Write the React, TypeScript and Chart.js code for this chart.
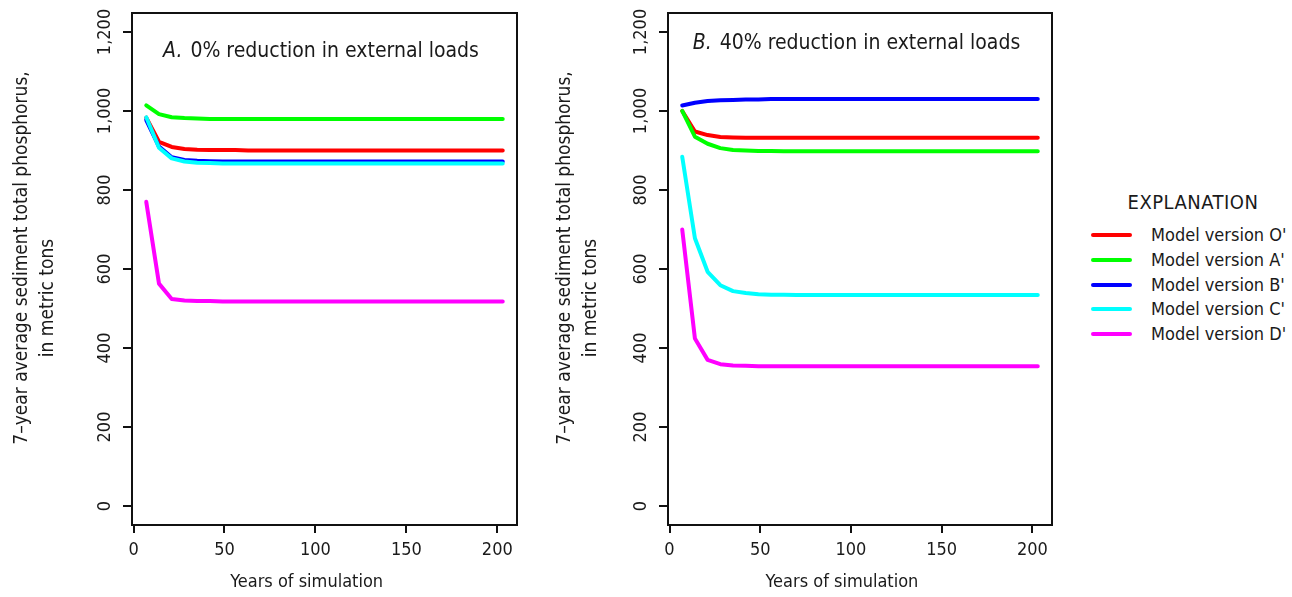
import React, { useEffect, useRef } from "react";
import { Chart, registerables } from "chart.js";

Chart.register(...registerables);

const FONT = "'DejaVu Sans Condensed', 'Liberation Sans Narrow', 'Roboto Condensed', 'DejaVu Sans', sans-serif";
const TEXT = "#1a1a1a";

const YEARS = [7, 14, 21, 28, 35, 42, 49, 56, 63, 70, 77, 84, 91, 98, 105, 112, 119, 126, 133, 140, 147, 154, 161, 168, 175, 182, 189, 196, 203];

const X_TICKS = [0, 50, 100, 150, 200];
const Y_TICKS = [0, 200, 400, 600, 800, 1000, 1200];
const X_MIN = -0.84;
const X_MAX = 210.84;
const Y_MIN = -48;
const Y_MAX = 1248;

const SERIES_NAMES = ["Model version O'", "Model version A'", "Model version B'", "Model version C'", "Model version D'"];
const SERIES_COLORS = ["#ff0000", "#00ff00", "#0000ff", "#00ffff", "#ff00ff"];

// Panel A: 0% reduction in external loads
const A_O = [983, 922, 909, 904, 902, 901, 901, 901, 900, 900, 900, 900, 900, 900, 900, 900, 900, 900, 900, 900, 900, 900, 900, 900, 900, 900, 900, 900, 900];
const A_A = [1014, 992, 984, 982, 981, 980, 980, 980, 980, 980, 980, 980, 980, 980, 980, 980, 980, 980, 980, 980, 980, 980, 980, 980, 980, 980, 980, 980, 980];
const A_B = [977, 910, 883, 876, 874, 873, 872, 872, 872, 872, 872, 872, 872, 872, 872, 872, 872, 872, 872, 872, 872, 872, 872, 872, 872, 872, 872, 872, 872];
const A_C = [984, 907, 880, 872, 869, 868, 867, 867, 867, 867, 867, 867, 867, 867, 867, 867, 867, 867, 867, 867, 867, 867, 867, 867, 867, 867, 867, 867, 867];
const A_D = [770, 563, 524, 520, 519, 519, 518, 518, 518, 518, 518, 518, 518, 518, 518, 518, 518, 518, 518, 518, 518, 518, 518, 518, 518, 518, 518, 518, 518];

// Panel B: 40% reduction in external loads
const B_O = [1000, 948, 939, 934, 933, 932, 932, 932, 932, 932, 932, 932, 932, 932, 932, 932, 932, 932, 932, 932, 932, 932, 932, 932, 932, 932, 932, 932, 932];
const B_A = [1000, 935, 917, 906, 901, 900, 899, 899, 898, 898, 898, 898, 898, 898, 898, 898, 898, 898, 898, 898, 898, 898, 898, 898, 898, 898, 898, 898, 898];
const B_B = [1014, 1021, 1025, 1027, 1028, 1029, 1029, 1030, 1030, 1030, 1030, 1030, 1030, 1030, 1030, 1030, 1030, 1030, 1030, 1030, 1030, 1030, 1030, 1030, 1030, 1030, 1030, 1030, 1030];
const B_C = [884, 678, 593, 559, 544, 539, 536, 535, 535, 534, 534, 534, 534, 534, 534, 534, 534, 534, 534, 534, 534, 534, 534, 534, 534, 534, 534, 534, 534];
const B_D = [700, 424, 370, 359, 356, 355, 354, 354, 354, 354, 354, 354, 354, 354, 354, 354, 354, 354, 354, 354, 354, 354, 354, 354, 354, 354, 354, 354, 354];

const Y_TITLE_1 = "7\u2013year average sediment total phosphorus,";
const Y_TITLE_2 = "in metric tons";
const X_TITLE = "Years of simulation";

type PanelOpts = {
  letter: string;
  title: string;
  titleCx: number;
  titleCy: number;
  yT1x: number;
  yT2x: number;
  yT1cy: number;
  yT2cy: number;
  xTcx: number;
  xTcy: number;
};

const panelPlugin = {
  id: "panelText",
  afterDraw(chart: any, _args: any, opts: PanelOpts) {
    const { ctx, chartArea: ca } = chart;
    ctx.save();
    // frame box
    ctx.strokeStyle = "#111";
    ctx.lineWidth = 2;
    ctx.strokeRect(ca.left, ca.top, ca.right - ca.left, ca.bottom - ca.top);

    ctx.fillStyle = TEXT;
    ctx.textBaseline = "middle";
    // panel heading
    const italic = `italic 21px ${FONT}`;
    const normal = `21px ${FONT}`;
    ctx.font = italic;
    const w1 = ctx.measureText(opts.letter).width;
    ctx.font = normal;
    const w2 = ctx.measureText(opts.title).width;
    const gap = 8;
    const start = opts.titleCx - (w1 + gap + w2) / 2;
    ctx.textAlign = "left";
    ctx.font = italic;
    ctx.fillText(opts.letter, start, opts.titleCy);
    ctx.font = normal;
    ctx.fillText(opts.title, start + w1 + gap, opts.titleCy);

    // x-axis title
    ctx.textAlign = "center";
    ctx.font = `18px ${FONT}`;
    ctx.fillText(X_TITLE, opts.xTcx, opts.xTcy);

    // y-axis title (two lines, rotated)
    ctx.font = `19px ${FONT}`;
    ctx.save();
    ctx.translate(opts.yT1x, opts.yT1cy);
    ctx.rotate(-Math.PI / 2);
    ctx.fillText(Y_TITLE_1, 0, 0);
    ctx.restore();
    ctx.save();
    ctx.translate(opts.yT2x, opts.yT2cy);
    ctx.rotate(-Math.PI / 2);
    ctx.fillText(Y_TITLE_2, 0, 0);
    ctx.restore();
    ctx.restore();
  },
};

function makeConfig(series: number[][], padRight: number, panel: PanelOpts): any {
  return {
    type: "line",
    data: {
      datasets: series.map((vals, i) => ({
        label: SERIES_NAMES[i],
        data: YEARS.map((x, j) => ({ x, y: vals[j] })),
        borderColor: SERIES_COLORS[i],
        backgroundColor: SERIES_COLORS[i],
        borderWidth: 4,
        pointRadius: 0,
        tension: 0,
        fill: false,
        borderCapStyle: "round",
        borderJoinStyle: "round",
        order: series.length - i,
      })),
    },
    options: {
      responsive: false,
      animation: false,
      events: [],
      layout: { padding: { left: 0, right: padRight, top: 13, bottom: 0 } },
      plugins: {
        legend: { display: false },
        tooltip: { enabled: false },
        title: { display: false },
        panelText: panel,
      },
      scales: {
        x: {
          type: "linear",
          min: X_MIN,
          max: X_MAX,
          afterBuildTicks: (s: any) => {
            s.ticks = X_TICKS.map((value) => ({ value }));
          },
          afterFit: (s: any) => {
            s.height = 72;
            s.paddingLeft = 0;
            s.paddingRight = 0;
          },
          border: { display: false },
          grid: { drawOnChartArea: false, drawTicks: true, tickLength: 8, color: "#111", lineWidth: 2 },
          ticks: {
            autoSkip: false,
            maxRotation: 0,
            minRotation: 0,
            padding: 7,
            color: TEXT,
            font: { family: FONT, size: 18 },
            callback: (v: any) => String(v),
          },
        },
        y: {
          type: "linear",
          min: Y_MIN,
          max: Y_MAX,
          afterBuildTicks: (s: any) => {
            s.ticks = Y_TICKS.map((value) => ({ value }));
          },
          afterFit: (s: any) => {
            s.width = 132;
            s.paddingTop = 0;
            s.paddingBottom = 0;
          },
          border: { display: false },
          grid: { drawOnChartArea: false, drawTicks: true, tickLength: 9, color: "#111", lineWidth: 2 },
          ticks: {
            autoSkip: false,
            minRotation: 90,
            maxRotation: 90,
            crossAlign: "center",
            padding: -6,
            color: TEXT,
            font: { family: FONT, size: 18 },
            callback: (v: any) => Number(v).toLocaleString("en-US"),
          },
        },
      },
    },
    plugins: [panelPlugin],
  };
}

function Panel(props: { left: number; width: number; padRight: number; series: number[][]; panel: PanelOpts }) {
  const ref = useRef<HTMLCanvasElement | null>(null);
  useEffect(() => {
    if (!ref.current) return;
    const chart = new Chart(ref.current, makeConfig(props.series, props.padRight, props.panel));
    return () => chart.destroy();
  }, []);
  return (
    <canvas
      ref={ref}
      width={props.width}
      height={597}
      style={{ position: "absolute", left: props.left, top: 0, width: props.width, height: 597 }}
    />
  );
}

const LEGEND_TITLE = "EXPLANATION";

export default function App() {
  const panelA: PanelOpts = {
    letter: "A.",
    title: "0% reduction in external loads",
    titleCx: 321,
    titleCy: 52,
    yT1x: 22,
    yT2x: 48,
    yT1cy: 258,
    yT2cy: 298,
    xTcx: 306.7,
    xTcy: 582,
  };
  const panelB: PanelOpts = {
    letter: "B.",
    title: "40% reduction in external loads",
    titleCx: 320.5,
    titleCy: 43.5,
    yT1x: 29,
    yT2x: 55,
    yT1cy: 258,
    yT2cy: 298,
    xTcx: 306,
    xTcy: 582,
  };
  return (
    <div style={{ position: "absolute", left: 0, top: 0, width: 1292, height: 597, background: "#fff", overflow: "hidden" }}>
      <Panel left={0} width={540} padRight={23} series={[A_O, A_A, A_B, A_C, A_D]} panel={panelA} />
      <Panel left={536} width={536} padRight={20} series={[B_O, B_A, B_B, B_C, B_D]} panel={panelB} />
      <div
        style={{
          position: "absolute",
          left: 1093,
          top: 190,
          width: 200,
          textAlign: "center",
          fontFamily: FONT,
          fontSize: 20,
          lineHeight: "24px",
          letterSpacing: "0.5px",
          color: TEXT,
        }}
      >
        {LEGEND_TITLE}
      </div>
      {SERIES_NAMES.map((name, i) => (
        <div
          key={name}
          style={{
            position: "absolute",
            left: 1091,
            top: 223 + i * 24.8,
            height: 24,
            display: "flex",
            alignItems: "center",
            fontFamily: FONT,
            fontSize: 18,
            lineHeight: "24px",
            color: TEXT,
            whiteSpace: "nowrap",
          }}
        >
          <span style={{ display: "inline-block", width: 41, height: 4, borderRadius: 2, background: SERIES_COLORS[i], marginRight: 19 }} />
          <span>{name}</span>
        </div>
      ))}
    </div>
  );
}
